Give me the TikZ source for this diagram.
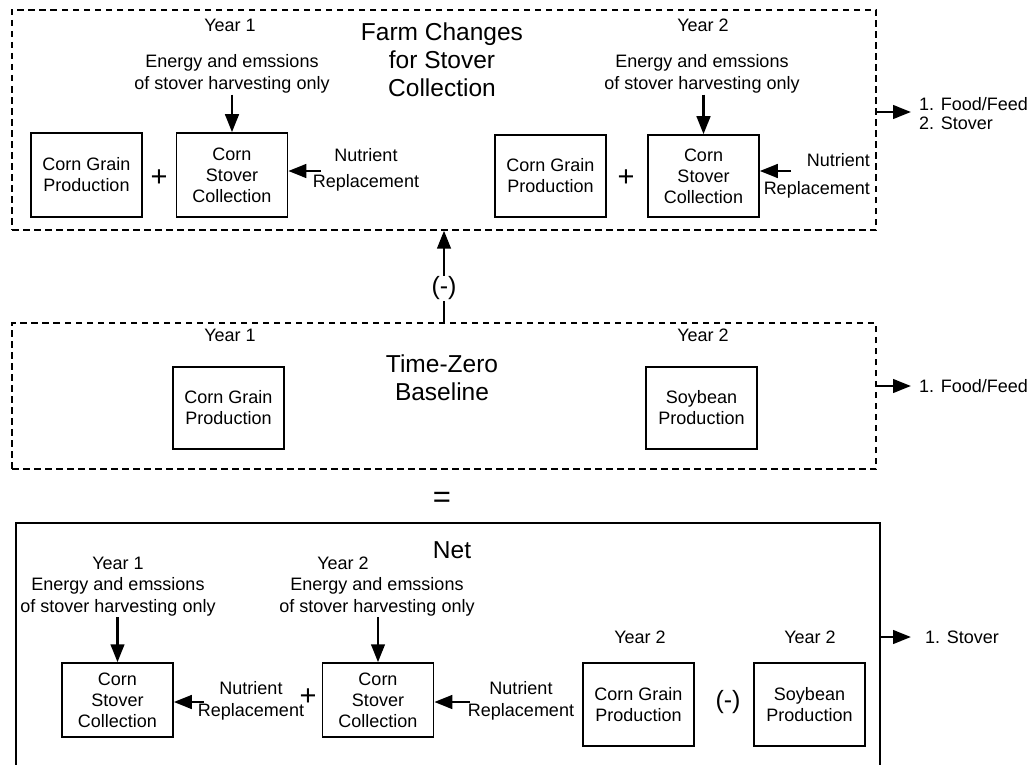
\documentclass[tikz,border=0pt]{standalone}
\usepackage{fontspec}
\setmainfont{Liberation Sans}
\usetikzlibrary{arrows.meta}
\begin{document}
\begin{tikzpicture}[x=1pt,y=-1pt,
 box/.style={draw,line width=1.5pt,minimum width=111pt,inner sep=0pt,align=center,font=\fontsize{18}{21}\selectfont},
 lbl/.style={inner sep=1pt,align=center,font=\fontsize{18}{22}\selectfont},
 ttl/.style={inner sep=0pt,align=center,font=\fontsize{24.5}{28}\selectfont},
 grp/.style={draw,line width=1.3pt,dash pattern=on 6.5pt off 4.5pt,inner sep=0pt},
 arr/.style={line width=2.8pt,-{Triangle[length=18pt,width=13.5pt]}},
 sym/.style={inner sep=0pt,font=\fontsize{29}{29}\selectfont}]
\useasboundingbox (0,0) rectangle (1033,765);

% ---------- top group ----------
\node[grp,minimum width=864pt,minimum height=220pt] (tb) at (444,120) {};
\node[lbl] (y1a) at (230,25) {Year 1};
\node[ttl] (t1) at (442,60) {Farm Changes\\for Stover\\Collection};
\node[lbl] (e1) at (232,74) {Energy and emssions\\of stover harvesting only};
\node[box,minimum height=84pt] (cg1) at (86.5,175) {Corn Grain\\Production};
\node[sym] (p1) at (159,178) {+};
\node[box,minimum height=84pt] (sc1) at (232,175) {Corn\\Stover\\Collection};
\node[lbl,font=\fontsize{18}{26}\selectfont] (n1) at (366,170) {Nutrient\\Replacement};
\coordinate (n1t) at (321,171);
\draw[arr] (sc1.north |- e1.south) -- (sc1.north);
\draw[arr] (n1t) -- (n1t -| sc1.east);

\node[lbl] (y2a) at (703,25) {Year 2};
\node[lbl] (e2) at (702,74) {Energy and emssions\\of stover harvesting only};
\node[box,minimum height=82pt] (cg2) at (550.5,176) {Corn Grain\\Production};
\node[sym] (p2) at (626,178) {+};
\node[box,minimum height=82pt] (sc2) at (703.5,176) {Corn\\Stover\\Collection};
\node[lbl,align=right,anchor=east,font=\fontsize{18}{28}\selectfont] (n2) at (871,176) {Nutrient\\Replacement};
\coordinate (n2t) at (791,171);
\draw[arr] (sc2.north |- e2.south) -- (sc2.north);
\draw[arr] (n2t) -- (n2t -| sc2.east);

\coordinate (o1) at (911,112);
\draw[arr] (tb.east |- o1) -- (o1);
\node[lbl,anchor=west,align=left,font=\fontsize{18}{19}\selectfont] (f1) at (918,114) {1. Food/Feed\\2. Stover};

% ---------- middle group ----------
\node[grp,minimum width=864pt,minimum height=146pt] (mb) at (444,396) {};
\node[lbl] (y1b) at (230,335) {Year 1};
\node[ttl] (t2) at (442,378) {Time-Zero\\Baseline};
\node[box,minimum height=82pt] (cg3) at (228.5,408) {Corn Grain\\Production};
\node[lbl] (y2b) at (703,335) {Year 2};
\node[box,minimum height=82pt] (sb3) at (701.5,408) {Soybean\\Production};
\coordinate (o2) at (911,386);
\draw[arr] (mb.east |- o2) -- (o2);
\node[lbl,anchor=west] (f2) at (918,386) {1. Food/Feed};

\draw[arr] (mb.north) -- node[pos=0.37,fill=white,inner sep=1pt,font=\fontsize{25}{25}\selectfont] (minus1) {(-)} (tb.south);

\node[sym,font=\fontsize{31}{31}\selectfont] (eq) at (442,500) {=};

% ---------- bottom group ----------
\draw[line width=1.5pt] (16,775) |- (880,523) -- (880,775);
\coordinate (bR) at (880,637);
\node[ttl] (t3) at (452,550) {Net};
\node[lbl] (y1c) at (118,563) {Year 1};
\node[lbl] (e4) at (118,596.5) {Energy and emssions\\of stover harvesting only};
\node[lbl] (y2c) at (343,563) {Year 2};
\node[lbl] (e5) at (377,596.5) {Energy and emssions\\of stover harvesting only};
\node[box,minimum height=74pt] (sc4) at (117.5,700) {Corn\\Stover\\Collection};
\node[lbl] (n4) at (251,701) {Nutrient\\Replacement};
\coordinate (n4t) at (204,702);
\node[sym] (p4) at (308,697) {+};
\node[box,minimum height=74pt] (sc5) at (378,700) {Corn\\Stover\\Collection};
\node[lbl] (n5) at (521,701) {Nutrient\\Replacement};
\coordinate (n5t) at (470,702);
\node[lbl] (y2d) at (640,637) {Year 2};
\node[box,minimum height=83pt] (cg6) at (638.5,704.5) {Corn Grain\\Production};
\node[sym,font=\fontsize{25}{25}\selectfont] (m6) at (728,702) {(-)};
\node[lbl] (y2e) at (810,637) {Year 2};
\node[box,minimum height=83pt] (sb6) at (809.5,704.5) {Soybean\\Production};
\draw[arr] (sc4.north |- e4.south) -- (sc4.north);
\draw[arr] (sc5.north |- e5.south) -- (sc5.north);
\draw[arr] (n4t) -- (n4t -| sc4.east);
\draw[arr] (n5t) -- (n5t -| sc5.east);
\coordinate (o3) at (911,637);
\draw[arr] (bR) -- (o3);
\node[lbl,anchor=west] (s3) at (924,637) {1. Stover};
\end{tikzpicture}
\end{document}
